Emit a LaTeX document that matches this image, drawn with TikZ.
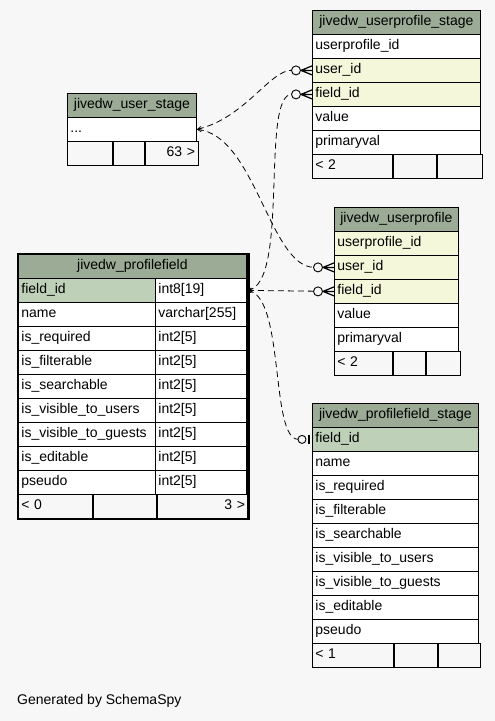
\documentclass[tikz,border=0pt]{standalone}
\usepackage{fontspec}
\setmainfont{Liberation Sans}
\usetikzlibrary{arrows.meta}
\definecolor{bgcol}{HTML}{F7F7F7}
\definecolor{headgray}{HTML}{9BAB96}
\definecolor{keygreen}{HTML}{BED1B8}
\definecolor{fkyellow}{HTML}{F4F7DA}
\tikzset{
  cell/.style={draw=black, line width=0.8pt, anchor=north west, minimum height=24pt,
    inner xsep=3pt, inner ysep=0pt, text height=10pt, text depth=3pt, align=left, text width=#1},
  headcell/.style={cell=#1, fill=headgray, align=center},
  footcell/.style={cell=#1, fill=bgcol},
  rel/.style={line width=0.8pt, dash pattern=on 6pt off 4pt,
    {Straight Barb[length=4pt,width=4pt,line width=0.6pt]}-},
  crowfoot/.pic={
    \draw[line width=1.2pt] (-11,0) -- (0,-4.5) (-11,0) -- (0,0) (-11,0) -- (0,4.5);
    \draw[line width=0.9pt, fill=bgcol] (-16,0) circle (4.5pt);
  },
  zeroone/.pic={
    \draw[line width=2.5pt] (-3,-4.5) -- (-3,4.5);
    \draw[line width=0.9pt, fill=bgcol] (-10,0) circle (4pt);
  }
}
\begin{document}
\begin{tikzpicture}[x=1pt, y=-1pt, font=\fontsize{14}{16}\selectfont]
  \fill[bgcol] (0,0) rectangle (495,721);
  \useasboundingbox (0,0) rectangle (495,721);

  % jivedw_userprofile_stage
  \node[headcell=162pt] (ups-head) at (312,10) {jivedw\_userprofile\_stage};
  \foreach \i/\n/\lbl/\col in {1/pid/userprofile\_id/white, 2/uid/user\_id/fkyellow,
      3/fid/field\_id/fkyellow, 4/val/value/white, 5/pval/primaryval/white}
    \node[cell=162pt, fill=\col] (ups-\n) at (312,10+24*\i) {\lbl};
  \node[footcell=74pt] (ups-f1) at (312,154) {< 2};
  \node[footcell=37pt] (ups-f2) at (ups-f1.north east) {};
  \node[footcell=39pt] (ups-f3) at (ups-f2.north east) {};

  % jivedw_user_stage
  \node[headcell=123pt] (us-head) at (67,93) {jivedw\_user\_stage};
  \node[cell=123pt, fill=white] (us-dots) at (67,117) {...};
  \node[footcell=39pt] (us-f1) at (67,141) {};
  \node[footcell=25pt] (us-f2) at (us-f1.north east) {};
  \node[footcell=47pt, align=right] (us-f3) at (us-f2.north east) {63 >};

  % jivedw_profilefield
  \node[headcell=222pt] (pf-head) at (18,254) {jivedw\_profilefield};
  \foreach \i/\n/\lbl/\typ/\col in {0/fid/field\_id/int8[19]/keygreen, 1/name/name/varchar[255]/white,
      2/req/is\_required/int2[5]/white, 3/filt/is\_filterable/int2[5]/white,
      4/srch/is\_searchable/int2[5]/white, 5/vusr/is\_visible\_to\_users/int2[5]/white,
      6/vgst/is\_visible\_to\_guests/int2[5]/white, 7/edit/is\_editable/int2[5]/white,
      8/pseudo/pseudo/int2[5]/white} {
    \node[cell=131pt, fill=\col] (pf-\n) at (18,278+24*\i) {\lbl};
    \node[cell=85pt, fill=white] (pf-\n-t) at (155,278+24*\i) {\typ};
  }
  \node[footcell=68pt] (pf-f1) at (18,494) {< 0};
  \node[footcell=57pt] (pf-f2) at (pf-f1.north east) {};
  \node[footcell=85pt, align=right] (pf-f3) at (pf-f2.north east) {3 >};
  \draw[line width=2.5pt] (pf-head.north west) rectangle (pf-f3.south east);

  % jivedw_userprofile
  \node[headcell=118pt] (up-head) at (334,207) {jivedw\_userprofile};
  \foreach \i/\n/\lbl/\col in {1/pid/userprofile\_id/fkyellow, 2/uid/user\_id/fkyellow,
      3/fid/field\_id/fkyellow, 4/val/value/white, 5/pval/primaryval/white}
    \node[cell=118pt, fill=\col] (up-\n) at (334,207+24*\i) {\lbl};
  \node[footcell=52pt] (up-f1) at (334,351) {< 2};
  \node[footcell=26pt] (up-f2) at (up-f1.north east) {};
  \node[footcell=28pt] (up-f3) at (up-f2.north east) {};

  % jivedw_profilefield_stage
  \node[headcell=160pt] (pfs-head) at (312,403) {jivedw\_profilefield\_stage};
  \foreach \i/\n/\lbl/\col in {1/fid/field\_id/keygreen, 2/name/name/white,
      3/req/is\_required/white, 4/filt/is\_filterable/white, 5/srch/is\_searchable/white,
      6/vusr/is\_visible\_to\_users/white, 7/vgst/is\_visible\_to\_guests/white,
      8/edit/is\_editable/white, 9/pseudo/pseudo/white}
    \node[cell=160pt, fill=\col] (pfs-\n) at (312,403+24*\i) {\lbl};
  \node[footcell=75pt] (pfs-f1) at (312,643) {< 1};
  \node[footcell=37pt] (pfs-f2) at (pfs-f1.north east) {};
  \node[footcell=36pt] (pfs-f3) at (pfs-f2.north east) {};

  % relationships
  \draw[rel, shorten >=20pt] (us-dots.east) .. controls (245,118) and (270,70) .. (ups-uid.west);
  \draw[rel, shorten >=20pt] (us-dots.east) .. controls (255,135) and (270,267) .. (up-uid.west);
  \draw[rel, shorten >=20pt] (pf-fid-t.east) .. controls (290,285) and (260,94) .. (ups-fid.west);
  \draw[rel, shorten >=20pt] (pf-fid-t.east) -- (up-fid.west);
  \draw[rel, shorten >=14pt] (pf-fid-t.east) .. controls (285,295) and (270,439) .. (pfs-fid.west);
  \pic at (ups-uid.west) {crowfoot};
  \pic at (ups-fid.west) {crowfoot};
  \pic at (up-uid.west) {crowfoot};
  \pic at (up-fid.west) {crowfoot};
  \pic at (pfs-fid.west) {zeroone};

  \node[anchor=base west, inner sep=0pt] (credit) at (17,704) {Generated by SchemaSpy};
\end{tikzpicture}
\end{document}
